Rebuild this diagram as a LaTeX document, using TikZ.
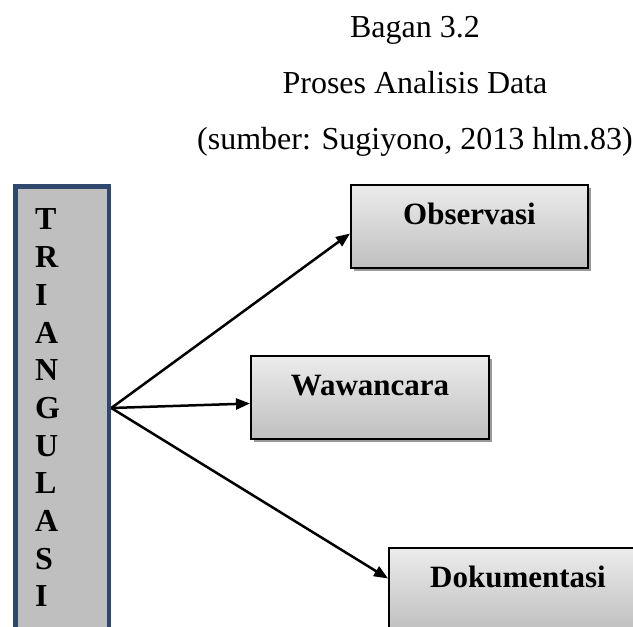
\documentclass[tikz,border=0pt]{standalone}
\usepackage{fontspec}
\setmainfont{Liberation Serif}
\usetikzlibrary{positioning,shadows,arrows.meta}
\definecolor{sideblue}{RGB}{47,72,110}
\definecolor{sidegray}{RGB}{191,191,191}
\tikzset{%
	judul/.style={anchor=base, inner sep=0pt, font=\fontsize{32}{38}\selectfont},
	tri/.style={draw=sideblue, line width=4.5pt, fill=sidegray, anchor=north west, minimum width=93.5pt, minimum height=520pt, inner sep=0pt},
	huruf/.style={anchor=west, align=left, inner sep=0pt, font=\fontsize{32}{37.7}\selectfont\bfseries},
	kotak/.style={draw, line width=2pt, top color=gray!15, bottom color=gray!50, drop shadow={shadow xshift=3pt, shadow yshift=-3pt, fill=gray!80, opacity=1}, anchor=north west, inner xsep=0pt, inner ysep=0pt, font=\fontsize{31}{37}\selectfont\bfseries, text height=39pt, text depth=44pt},
	panah/.style={line width=2.5pt, -{Triangle[length=14pt,width=11pt]}}}
\begin{document}
\begin{tikzpicture}[x=1pt, y=-1pt]
		\clip (0,0) rectangle (633,627);
		\node[judul] (bagan) at (415,37) {Bagan 3.2};
		\node[judul] (proses) at (415,93) {Proses Analisis Data};
		\node[judul] (sumber) at (415,149) {(sumber: Sugiyono, 2013 hlm.83)};
		
		\node[tri] (TR) at (13.25,184.25) {};
		\node[huruf] (TRI) at (35,408) {T\\R\\I\\A\\N\\G\\U\\L\\A\\S\\I};
		
		\node[kotak, minimum width=237pt] (OBS) at (350,184) {Observasi};
		\node[kotak, minimum width=238pt] (WAW) at (250,355) {Wawancara};
		\node[kotak, minimum width=258pt] (DOK) at (388,547) {Dokumentasi};
		
		\draw[panah] (TR.east |- TRI.center) -- ([yshift=-7pt]OBS.west);
		\draw[panah] (TR.east |- TRI.center) -- ([yshift=-6pt]WAW.west);
		\draw[panah] (TR.east |- TRI.center) -- ([yshift=11pt]DOK.west);
		%\draw[panah] (TR.east) -- (WAW.west);
	\end{tikzpicture}
\end{document}
